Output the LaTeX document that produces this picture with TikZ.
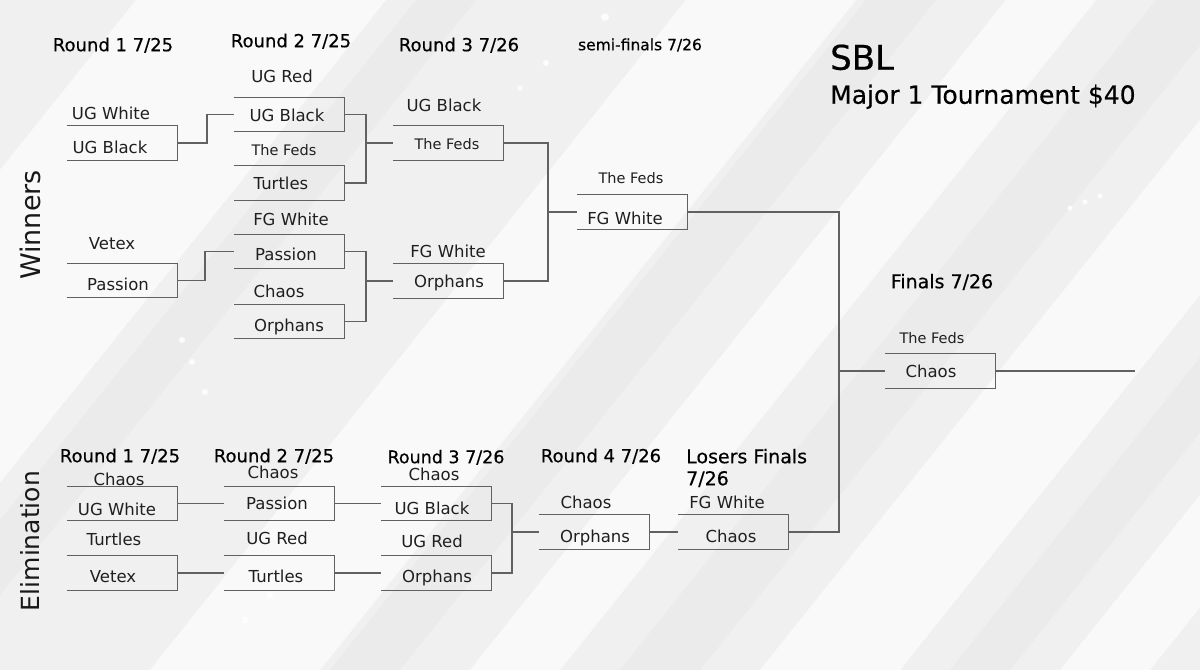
\documentclass[tikz,border=0pt]{standalone}
\usepackage{fontspec}
\setmainfont{DejaVu Sans}
\newfontfamily\hdrfont[FakeBold=0.5]{DejaVu Sans}
\begin{document}
\begin{tikzpicture}[x=1pt,y=-1pt,
  bline/.style={draw=black!62,line width=1.3pt},
  box/.style={rectangle,minimum width=110pt,minimum height=34pt,inner sep=0pt},
  lbl/.style={anchor=mid,inner sep=0pt,yshift=-3.5pt,font=\fontsize{16.5}{17}\selectfont,text=black!88},
  sml/.style={lbl,font=\fontsize{14.5}{15}\selectfont},
  hdr/.style={anchor=mid,inner sep=0pt,yshift=-3.5pt,font=\hdrfont\fontsize{18}{18}\selectfont,text=black},
  side/.style={rotate=90,inner sep=0pt,text=black!90},
  band/.style={fill=white,opacity=0.65},
  shade/.style={fill=black!9,opacity=0.6},
  dot/.style={fill=white,opacity=0.8}]
\useasboundingbox (0,0) rectangle (1200,670);
% ---------- background ----------
\begin{scope}
\clip (0,0) rectangle (1200,670);
\fill[black!6] (0,0) rectangle (1200,670);
\fill[band] (-400,670) -- (-150,670) -- (386,0) -- (136,0) -- cycle;
\fill[shade] (-120,670) -- (-60,670) -- (476,0) -- (416,0) -- cycle;
\fill[band] (150,670) -- (320,670) -- (856,0) -- (686,0) -- cycle;
\fill[shade] (330,670) -- (400,670) -- (936,0) -- (866,0) -- cycle;
\fill[band] (470,670) -- (560,670) -- (1096,0) -- (1006,0) -- cycle;
\fill[shade] (620,670) -- (700,670) -- (1236,0) -- (1156,0) -- cycle;
\fill[band] (760,670) -- (900,670) -- (1436,0) -- (1296,0) -- cycle;
\fill[shade] (950,670) -- (1010,670) -- (1546,0) -- (1486,0) -- cycle;
\fill[band] (1060,670) -- (1150,670) -- (1686,0) -- (1596,0) -- cycle;
\fill[dot] (605,17) circle (4);
\fill[dot] (546,63) circle (3);
\fill[dot] (520,88) circle (2.5);
\fill[dot] (182,340) circle (3);
\fill[dot] (192,362) circle (3);
\fill[dot] (205,392) circle (3);
\fill[dot] (270,595) circle (3.5);
\fill[dot] (245,620) circle (3.5);
\fill[dot] (1070,208) circle (2.5);
\fill[dot] (1085,202) circle (2.5);
\fill[dot] (1100,196) circle (2.5);
\end{scope}
% ---------- title ----------
\node[anchor=mid west,inner sep=0pt,yshift=-4pt,font=\hdrfont\fontsize{34}{34}\selectfont] (title) at (830,63) {SBL};
\node[anchor=mid west,inner sep=0pt,yshift=-4pt,font=\hdrfont\fontsize{25}{25}\selectfont] (sub) at (830,97) {Major 1 Tournament \$40};
% ---------- side labels ----------
\node[side,font=\fontsize{27}{27}\selectfont] (wside) at (30,225) {Winners};
\node[side,font=\fontsize{25}{25}\selectfont] (eside) at (30,541) {Elimination};
% ---------- headers ----------
\node[hdr] (hw1) at (113,45) {Round 1 7/25};
\node[hdr] (hw2) at (291,41) {Round 2 7/25};
\node[hdr] (hw3) at (459,45) {Round 3 7/26};
\node[hdr,font=\hdrfont\fontsize{15.5}{16}\selectfont] (hws) at (640,44) {semi-finals 7/26};
\node[hdr,font=\hdrfont\fontsize{19}{19}\selectfont] (hf) at (942,282) {Finals 7/26};
\node[hdr] (he1) at (120,456) {Round 1 7/25};
\node[hdr] (he2) at (274,456) {Round 2 7/25};
\node[hdr,font=\hdrfont\fontsize{17.5}{18}\selectfont] (he3) at (446,457) {Round 3 7/26};
\node[hdr] (he4) at (601,456) {Round 4 7/26};
\node[hdr,anchor=mid west,font=\hdrfont\fontsize{19}{19}\selectfont] (helf) at (686,457) {Losers Finals};
\node[hdr,anchor=mid west,font=\hdrfont\fontsize{19}{19}\selectfont] (helf2) at (686,479) {7/26};
% ---------- boxes ----------
\node[box] (w11) at (122,143) {};
\node[box] (w12) at (122,280.5) {};
\node[box] (w21) at (289.5,114.5) {};
\node[box] (w22) at (289.5,183) {};
\node[box] (w23) at (289.5,251.5) {};
\node[box] (w24) at (289.5,321.5) {};
\node[box] (w31) at (448.5,143) {};
\node[box] (w32) at (448.5,281) {};
\node[box] (ws)  at (632,212) {};
\node[box] (fin) at (940,371) {};
\node[box] (e11) at (122,503.5) {};
\node[box] (e12) at (122,573) {};
\node[box] (e21) at (279,503.5) {};
\node[box] (e22) at (279,573) {};
\node[box] (e31) at (436.5,503.5) {};
\node[box] (e32) at (436.5,573) {};
\node[box] (e4)  at (594.5,532) {};
\node[box] (elf) at (733,532) {};
\foreach \b in {w11,w12,w21,w22,w23,w24,w31,w32,ws,fin,e11,e12,e21,e22,e31,e32,e4,elf}
  \draw[bline] (\b.north west) -- (\b.north east) -- (\b.south east) -- (\b.south west);
% ---------- team labels ----------
\node[lbl] (w11t) at (111,113) {UG White};
\node[lbl] (w11b) at (110,147) {UG Black};
\node[lbl] (w12t) at (112,243) {Vetex};
\node[lbl] (w12b) at (118,284) {Passion};
\node[lbl] (w21t) at (282,76) {UG Red};
\node[lbl] (w21b) at (287,115) {UG Black};
\node[sml] (w22t) at (284,149) {The Feds};
\node[lbl] (w22b) at (281,183) {Turtles};
\node[lbl] (w23t) at (291,219) {FG White};
\node[lbl] (w23b) at (286,254) {Passion};
\node[lbl] (w24t) at (279,291) {Chaos};
\node[lbl] (w24b) at (289,325) {Orphans};
\node[lbl] (w31t) at (444,105) {UG Black};
\node[sml] (w31b) at (447,143) {The Feds};
\node[lbl] (w32t) at (448,251) {FG White};
\node[lbl] (w32b) at (449,281) {Orphans};
\node[sml] (wst)  at (631,177) {The Feds};
\node[lbl] (wsb)  at (625,218) {FG White};
\node[sml] (fint) at (932,337) {The Feds};
\node[lbl] (finb) at (931,371) {Chaos};
\node[lbl] (e11t) at (119,479) {Chaos};
\node[lbl] (e11b) at (117,509) {UG White};
\node[lbl] (e12t) at (114,539) {Turtles};
\node[lbl] (e12b) at (113,576) {Vetex};
\node[lbl] (e21t) at (273,472) {Chaos};
\node[lbl] (e21b) at (277,503) {Passion};
\node[lbl] (e22t) at (277,538) {UG Red};
\node[lbl] (e22b) at (276,576) {Turtles};
\node[lbl] (e31t) at (434,474) {Chaos};
\node[lbl] (e31b) at (432,508) {UG Black};
\node[lbl] (e32t) at (432,541) {UG Red};
\node[lbl] (e32b) at (437,576) {Orphans};
\node[lbl] (e4t)  at (586,502) {Chaos};
\node[lbl] (e4b)  at (595,536) {Orphans};
\node[lbl] (elft) at (727,502) {FG White};
\node[lbl] (elfb) at (731,536) {Chaos};
% ---------- connectors ----------
\coordinate (ja) at (207,0);
\coordinate (jb) at (205,0);
\coordinate (j1) at (366,143);
\coordinate (j2) at (366,281);
\coordinate (j3) at (548,212);
\coordinate (j4) at (839,371);
\coordinate (j5) at (512,532);
\coordinate (out) at (1135,371);
\draw[bline] (w11.east) -| (ja |- w21.west) -- (w21.west);
\draw[bline] (w12.east) -| (jb |- w23.west) -- (w23.west);
\draw[bline] (w21.east) -| (j1) |- (w22.east);
\draw[bline] (j1) -- (w31.west);
\draw[bline] (w23.east) -| (j2) |- (w24.east);
\draw[bline] (j2) -- (w32.west);
\draw[bline] (w31.east) -| (j3) |- (w32.east);
\draw[bline] (j3) -- (ws.west);
\draw[bline] (ws.east) -| (j4) |- (elf.east);
\draw[bline] (j4) -- (fin.west);
\draw[bline] (fin.east) -- (out);
\draw[bline] (e11.east) -- (e21.west);
\draw[bline] (e12.east) -- (e22.west);
\draw[bline] (e21.east) -- (e31.west);
\draw[bline] (e22.east) -- (e32.west);
\draw[bline] (e31.east) -| (j5) |- (e32.east);
\draw[bline] (j5) -- (e4.west);
\draw[bline] (e4.east) -- (elf.west);
\end{tikzpicture}
\end{document}
